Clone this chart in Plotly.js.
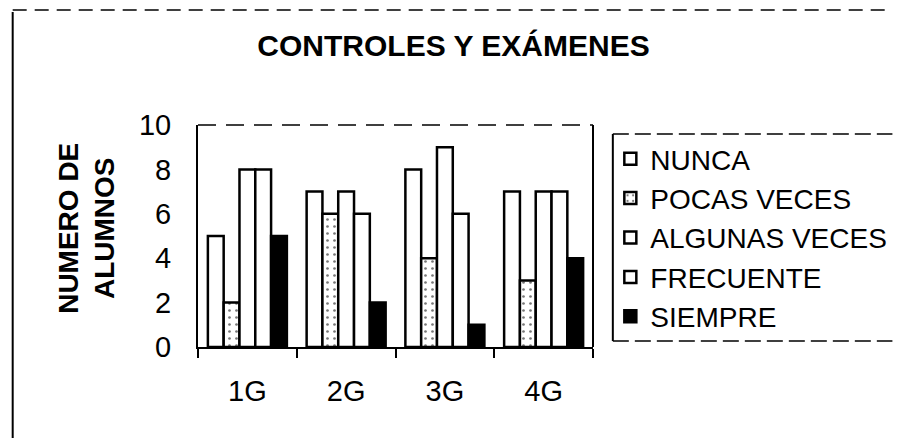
<!DOCTYPE html>
<html>
<head>
<meta charset="utf-8">
<script src="https://cdn.plot.ly/plotly-3.0.1.min.js"></script>
<style>html,body{margin:0;padding:0;background:#fff;}#chart{width:904px;height:438px;}</style>
</head>
<body>
<div id="chart"></div>
<script>
const categories = ["1G", "2G", "3G", "4G"];
const seriesNames = ["NUNCA", "POCAS VECES", "ALGUNAS VECES", "FRECUENTE", "SIEMPRE"];
const nunca = [5, 7, 8, 7];
const pocasVeces = [2, 6, 4, 3];
const algunasVeces = [8, 7, 9, 7];
const frecuente = [8, 6, 6, 7];
const siempre = [5, 2, 1, 4];
const yTicks = [0, 2, 4, 6, 8, 10];

const FONT = "Liberation Sans, Arial, sans-serif";
const seriesValues = [nunca, pocasVeces, algunasVeces, frecuente, siempre];
const fills = ["#ffffff", "#ffffff", "#ffffff", "#ffffff", "#000000"];

const traces = seriesValues.map((vals, i) => {
  const marker = { color: fills[i], line: { color: "#000", width: 2.5 } };
  if (i === 1) {
    marker.pattern = { shape: ".", fgcolor: "#777", bgcolor: "#fff", size: 7, solidity: 0.12 };
  }
  return { type: "bar", name: seriesNames[i], x: categories, y: vals, marker: marker };
});

// plot area in pixels: left 198, right 603, top 125, bottom 347
const L = 198, R = 603, T = 125, B = 347;
const px = (x) => (x - L) / (R - L);
const py = (y) => (B - y) / (B - T);

const baseShapes = [
  // outer chart border (left and top)
  { type: "line", xref: "paper", yref: "paper", x0: px(8), x1: px(8), y0: py(12), y1: py(445), line: { color: "#000", width: 2 } },
  { type: "line", xref: "paper", yref: "paper", x0: px(8), x1: px(910), y0: py(10), y1: py(10), line: { color: "#000", width: 1.5, dash: "14px,8px" } },
  // plot area frame top (broken) and right
  { type: "line", xref: "paper", yref: "paper", x0: 0, x1: 1, y0: 1, y1: 1, line: { color: "#000", width: 1.5, dash: "18px,10px" } },
  { type: "line", xref: "paper", yref: "paper", x0: 1, x1: 1, y0: 0, y1: 1, line: { color: "#000", width: 2 } }
];

const layout = {
  width: 904, height: 438,
  margin: { l: L, r: 904 - R, t: T, b: 438 - B, pad: 0 },
  paper_bgcolor: "#fff", plot_bgcolor: "#fff",
  font: { family: FONT, color: "#000", size: 28 },
  barmode: "group", bargap: 0.2, bargroupgap: 0,
  showlegend: true,
  title: {
    text: "<b>CONTROLES Y EXÁMENES</b>",
    font: { family: FONT, size: 30, color: "#000" },
    xref: "paper", x: px(460), xanchor: "center",
    yref: "container", y: 1 - 45 / 438, yanchor: "middle"
  },
  xaxis: {
    type: "category",
    showline: true, linecolor: "#000", linewidth: 2,
    ticks: "outside", tickson: "boundaries", ticklen: 9, tickwidth: 2, tickcolor: "#000",
    tickfont: { family: FONT, size: 29 },
    ticklabelstandoff: 17,
    showgrid: false, zeroline: false, fixedrange: true
  },
  yaxis: {
    range: [0, 10], tickvals: yTicks, ticktext: yTicks.map(String),
    showline: true, linecolor: "#000", linewidth: 2,
    ticks: "", tickfont: { family: FONT, size: 29 },
    ticklabelstandoff: 19,
    showgrid: false, zeroline: false, fixedrange: true
  },
  legend: {
    x: px(630), xanchor: "left", y: py(134), yanchor: "top",
    borderwidth: 0, bgcolor: "rgba(0,0,0,0)",
    font: { family: FONT, size: 28, color: "#000" },
    tracegroupgap: 0, itemwidth: 30, traceorder: "normal", indentation: -9
  },
  annotations: [{
    text: "<b>NUMERO DE<br>ALUMNOS</b>",
    xref: "paper", yref: "paper", x: px(83), y: py(228),
    xanchor: "center", yanchor: "middle", textangle: -90,
    showarrow: false, font: { family: FONT, size: 28, color: "#000" }
  }],
  shapes: baseShapes.slice()
};

Plotly.newPlot("chart", traces, layout, { staticPlot: true, displayModeBar: false }).then(function (gd) {
  // legend box: left side solid, top and bottom broken, right side runs off the page
  const bg = gd.querySelector(".legend rect.bg");
  const host = gd.getBoundingClientRect();
  if (!bg) return;
  const r = bg.getBoundingClientRect();
  const lx = r.left - host.left + 4, ty = r.top - host.top, by = r.bottom - host.top;
  const legendShapes = [
    { type: "line", xref: "paper", yref: "paper", x0: px(lx), x1: px(lx), y0: py(ty), y1: py(by), line: { color: "#000", width: 2 } },
    { type: "line", xref: "paper", yref: "paper", x0: px(lx), x1: px(910), y0: py(ty), y1: py(ty), line: { color: "#000", width: 1.5, dash: "16px,6px" } },
    { type: "line", xref: "paper", yref: "paper", x0: px(lx), x1: px(910), y0: py(by), y1: py(by), line: { color: "#000", width: 1.5, dash: "16px,6px" } }
  ];
  return Plotly.relayout(gd, { shapes: baseShapes.concat(legendShapes) });
});
</script>
</body>
</html>
